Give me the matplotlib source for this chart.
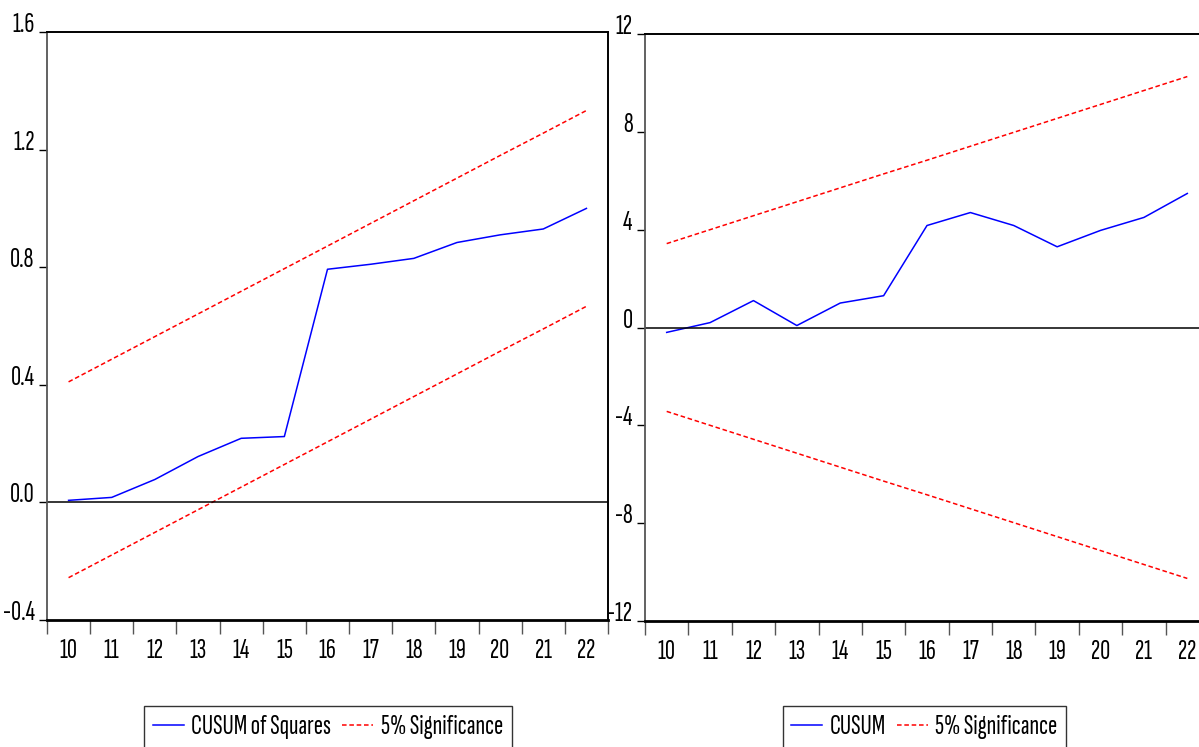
import matplotlib
matplotlib.use("Agg")
import matplotlib.pyplot as plt
from matplotlib.ticker import FixedLocator, NullFormatter
from matplotlib import font_manager as fm

_avail = set(f.name for f in fm.fontManager.ttflist)
_cands = ['Sofia Sans Extra Condensed', 'Barlow Condensed', 'Archivo Narrow', 'Roboto Condensed',
          'Liberation Sans']
FONT = next((c for c in _cands if c in _avail), 'DejaVu Sans')
plt.rcParams['font.family'] = [FONT, 'DejaVu Sans']

# ---- data ----
periods = [10, 11, 12, 13, 14, 15, 16, 17, 18, 19, 20, 21, 22]
period_labels = [str(p) for p in periods]

cusumsq = [0.007, 0.017, 0.078, 0.156, 0.218, 0.224, 0.793, 0.810, 0.830, 0.884, 0.910, 0.930, 1.000]
cusumsq_upper = [0.410, 0.487, 0.564, 0.641, 0.718, 0.795, 0.872, 0.949, 1.026, 1.103, 1.180, 1.256, 1.333]
cusumsq_lower = [-0.256, -0.179, -0.102, -0.025, 0.052, 0.129, 0.206, 0.283, 0.360, 0.437, 0.514, 0.590, 0.667]

cusum = [-0.20, 0.20, 1.10, 0.08, 1.00, 1.30, 4.17, 4.70, 4.17, 3.30, 3.97, 4.50, 5.48]
cusum_upper = [3.43, 4.00, 4.57, 5.14, 5.71, 6.28, 6.84, 7.41, 7.98, 8.55, 9.12, 9.69, 10.26]
cusum_lower = [-3.43, -4.00, -4.57, -5.14, -5.71, -6.28, -6.84, -7.41, -7.98, -8.55, -9.12, -9.69, -10.26]

left_yticks = [-0.4, 0.0, 0.4, 0.8, 1.2, 1.6]
left_yticklabels = ['-0.4', '0.0', '0.4', '0.8', '1.2', '1.6']
right_yticks = [-12, -8, -4, 0, 4, 8, 12]
right_yticklabels = ['-12', '-8', '-4', '0', '4', '8', '12']

W, H = 1199, 747
fig = plt.figure(figsize=(W / 100, H / 100), dpi=100)

FS = 20
BLUE = '#0000ff'
RED = '#ff0000'


def make_axes(rect, series, upper, lower, yticks, yticklabels, ylim, label, legend_x):
    ax = fig.add_axes(rect)
    x = list(range(len(periods)))
    ax.plot(x, upper, color=RED, lw=1.1, ls=(0, (3, 1.8)), label='5% Significance')
    ax.plot(x, lower, color=RED, lw=1.1, ls=(0, (3, 1.8)))
    ax.plot(x, series, color=BLUE, lw=1.1, label=label)
    ax.axhline(0, color='black', lw=1.1)
    ax.set_xlim(-0.5, len(periods) - 0.5)
    ax.set_ylim(*ylim)
    ax.set_yticks(yticks)
    ax.set_yticklabels(yticklabels, fontsize=FS, va='baseline')
    ax.set_xticks(x)
    ax.set_xticklabels(period_labels, fontsize=FS)
    ax.xaxis.set_minor_locator(FixedLocator([i - 0.5 for i in range(len(periods) + 1)]))
    ax.xaxis.set_minor_formatter(NullFormatter())
    ax.tick_params(axis='x', which='major', length=0, pad=14)
    ax.tick_params(axis='x', which='minor', length=10, width=1, color='#555555', direction='out')
    ax.tick_params(axis='y', which='major', length=6, width=1, direction='out', pad=3)
    for s in ['top', 'right']:
        ax.spines[s].set_linewidth(1.4)
        ax.spines[s].set_color('black')
    ax.spines['bottom'].set_linewidth(2.0)
    ax.spines['bottom'].set_color('black')
    ax.spines['left'].set_linewidth(1.3)
    ax.spines['left'].set_color('#555555')
    h, l = ax.get_legend_handles_labels()
    order = [1, 0]
    leg = fig.legend([h[i] for i in order], [l[i] for i in order],
                     loc='upper center', bbox_to_anchor=(legend_x, 1 - 706 / H),
                     ncol=2, fontsize=FS, frameon=True, fancybox=False,
                     handlelength=1.1, handletextpad=0.28, columnspacing=0.4,
                     borderpad=0.32, borderaxespad=0)
    leg.get_frame().set_edgecolor('black')
    leg.get_frame().set_linewidth(1.0)
    return ax


make_axes([47 / W, 1 - 620 / H, (608 - 47) / W, (620 - 32) / H],
          cusumsq, cusumsq_upper, cusumsq_lower, left_yticks, left_yticklabels,
          (-0.4, 1.6), 'CUSUM of Squares', 328 / W)
make_axes([645 / W, 1 - 621 / H, (1209 - 645) / W, (621 - 34) / H],
          cusum, cusum_upper, cusum_lower, right_yticks, right_yticklabels,
          (-12, 12), 'CUSUM', 924.5 / W)

fig.savefig('out.png', dpi=100)
